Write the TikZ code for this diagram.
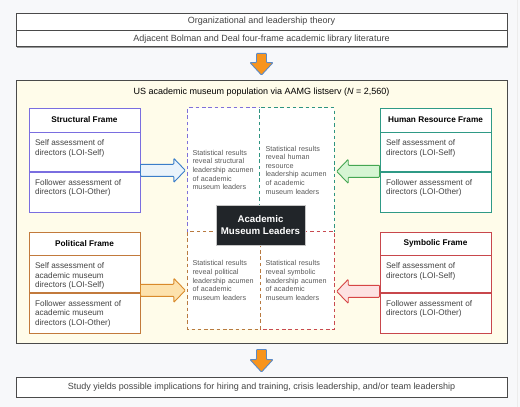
\documentclass[tikz,border=0pt]{standalone}
\usepackage{fontspec}
\setmainfont{Liberation Sans}
\usetikzlibrary{positioning,calc,shadows}

\definecolor{bgpage}{HTML}{F7F8FA}
\definecolor{boxline}{HTML}{4A4A4A}
\definecolor{popfill}{HTML}{FFFCEA}
\definecolor{txtgray}{HTML}{444444}
\definecolor{statgray}{HTML}{5A5A5A}
\definecolor{strcol}{HTML}{7A6EE0}
\definecolor{hrcol}{HTML}{2F9A86}
\definecolor{polcol}{HTML}{C27A3C}
\definecolor{symcol}{HTML}{C8474C}
\definecolor{strdash}{HTML}{7F70DA}
\definecolor{hrdash}{HTML}{2E9480}
\definecolor{poldash}{HTML}{B87A40}
\definecolor{symdash}{HTML}{C84A50}
\definecolor{leadfill}{HTML}{212529}
\definecolor{bluearr}{HTML}{3A7DC9}
\definecolor{bluefill}{HTML}{EAF3FB}
\definecolor{greenarr}{HTML}{45A652}
\definecolor{greenfill}{HTML}{D6F5D3}
\definecolor{orangearr}{HTML}{D98A2B}
\definecolor{orangefill}{HTML}{FDE2AD}
\definecolor{redarr}{HTML}{D64545}
\definecolor{redfill}{HTML}{FDE2E2}
\definecolor{flowfill}{HTML}{F7941D}
\definecolor{flowline}{HTML}{5A8AC6}

\tikzset{
	topbox/.style={draw=boxline, line width=0.9pt, fill=white, minimum width=491pt, minimum height=16pt, inner sep=0pt,
		font=\fontsize{9}{11}\selectfont, text=txtgray,
		drop shadow={shadow xshift=0.8pt, shadow yshift=-0.8pt, fill=gray, opacity=0.8}},
	popbox/.style={draw=boxline, line width=0.9pt, fill=popfill, minimum width=491pt, minimum height=263pt,
		drop shadow={shadow xshift=0.8pt, shadow yshift=-0.8pt, fill=gray, opacity=0.8}},
	framehead/.style={draw=#1, line width=0.9pt, fill=white, minimum width=111pt, minimum height=24pt, inner sep=0pt,
		font=\bfseries\fontsize{8.25}{10}\selectfont},
	framerow/.style={draw=#1, line width=0.9pt, fill=white, minimum width=111pt, inner xsep=6pt, inner ysep=0pt,
		font=\fontsize{8.2}{9.7}\selectfont, text=txtgray},
	statbox/.style={fill=white, text width=63pt, inner sep=0pt,
		align=left, font=\fontsize{7.2}{8.6}\selectfont, text=statgray},
	statline/.style={draw=#1, dash pattern=on 3.5pt off 2.8pt, line width=1.2pt},
	leadbox/.style={fill=leadfill, draw=gray!45, line width=0.8pt, text=white, align=center,
		minimum width=89pt, minimum height=40pt, inner sep=0pt, font=\bfseries\fontsize{9.7}{12.3}\selectfont},
	flowarrow/.style={fill=flowfill, draw=flowline, line width=0.9pt, rounded corners=0.8pt},
}

% text of one row of a frame, top aligned
\newcommand{\rowtxt}[2]{\parbox[c][#1][t]{99pt}{\vspace*{6.5pt}\raggedright #2}}

% side block arrow from #1 towards #2
\newcommand{\sideArrow}[3]{%
	\filldraw[#3, line width=0.9pt, rounded corners=0.8pt] let \p1=(#1), \p2=(#2),
	\n1={\x2-sign(\x2-\x1)*14pt}, \n2={\x2-sign(\x2-\x1)*2.5pt} in
	(\x1,\y1+6pt) -- (\n1,\y1+6pt) -- (\n1,\y1+12pt) -- (\n2,\y1)
	-- (\n1,\y1-12pt) -- (\n1,\y1-6pt) -- (\x1,\y1-6pt) -- cycle;}

% downward block arrow between #1 and #2
\newcommand{\flowArrow}[2]{%
	\filldraw[flowarrow] let \p1=(#1), \p2=(#2) in
	(\x1-5pt,\y1-6pt) -- (\x1-5pt,\y2+17pt) -- (\x1-11.5pt,\y2+17pt) -- (\x1,\y2+4.5pt)
	-- (\x1+11.5pt,\y2+17pt) -- (\x1+5pt,\y2+17pt) -- (\x1+5pt,\y1-6pt) -- cycle;}

\begin{document}
\begin{tikzpicture}[x=1pt, y=-1pt]
		\useasboundingbox (0,0) rectangle (520,407);
		\fill[bgpage] (0,0) rectangle (520,407);
		\draw[gray!15, line width=0.8pt] (517,0) -- (517,407);
		
		% upper part
		\node[topbox, minimum height=17pt] (theory) at (261.5,21.5) {Organizational and leadership theory};
		\node[topbox, below=0pt of theory] (lit) {Adjacent Bolman and Deal four-frame academic library literature};
		
		% population box
		\node[popbox] (pop) at (261.5,211.5) {};
		\node[font=\fontsize{9}{11}\selectfont] (popTitle) at (261.5,92) {US academic museum population via AAMG listserv (\textit{N} = 2,560)};
		
		% statistical results
		\node[statbox, minimum width=72pt, minimum height=124pt] (stS) at (224,170)
			{Statistical results\\reveal structural\\leadership acumen\\of academic\\museum leaders};
		\node[statbox, minimum width=74pt, minimum height=124pt] (stH) at (297,170)
			{Statistical results\\reveal human\\resource\\leadership acumen\\of academic\\museum leaders};
		\node[statbox, minimum width=74pt, minimum height=97pt] (stY) at (297,280.5)
			{Statistical results\\reveal symbolic\\leadership acumen\\of academic\\museum leaders};
		\node[statbox, minimum width=72pt, minimum height=97pt] (stP) at (224,280.5)
			{Statistical results\\reveal political\\leadership acumen\\of academic\\museum leaders};
		\draw[statline=strdash] (stS.south west) -- (stS.north west) -- (stS.north east);
		\draw[statline=hrdash] (stH.south west) -- (stH.north west) -- (stH.north east) -- (stH.south east);
		\draw[statline=symdash] (stY.north west) -- (stY.north east) -- (stY.south east) -- (stY.south west);
		\draw[statline=poldash] (stP.south east) -- (stP.north east) -- (stP.north west) -- (stP.south west) -- (stP.south east);
		\node[leadbox] (lead) at (260.5,225) {Academic\\Museum Leaders};
		
		% left frames
		\node[framehead=strcol] (sfHead) at (84.5,120) {Structural Frame};
		\node[framerow=strcol, below=0pt of sfHead] (sfSelf) {\rowtxt{39pt}{Self assessment of\\directors (LOI-Self)}};
		\node[framerow=strcol, below=0pt of sfSelf] (sfOther) {\rowtxt{40pt}{Follower assessment of\\directors (LOI-Other)}};
		
		\node[framehead=polcol, minimum height=23pt] (pfHead) at (84.5,243.5) {Political Frame};
		\node[framerow=polcol, below=0pt of pfHead] (pfSelf) {\rowtxt{37pt}{Self assessment of\\academic museum\\directors (LOI-Self)}};
		\node[framerow=polcol, below=0pt of pfSelf] (pfOther) {\rowtxt{40pt}{Follower assessment of\\academic museum\\directors (LOI-Other)}};
		
		% right frames
		\node[framehead=hrcol] (hfHead) at (435.5,120) {Human Resource Frame};
		\node[framerow=hrcol, below=0pt of hfHead] (hfSelf) {\rowtxt{39pt}{Self assessment of\\directors (LOI-Self)}};
		\node[framerow=hrcol, below=0pt of hfSelf] (hfOther) {\rowtxt{40pt}{Follower assessment of\\directors (LOI-Other)}};
		
		\node[framehead=symcol, minimum height=23pt] (yfHead) at (435.5,243.5) {Symbolic Frame};
		\node[framerow=symcol, below=0pt of yfHead] (yfSelf) {\rowtxt{37pt}{Self assessment of\\directors (LOI-Self)}};
		\node[framerow=symcol, below=0pt of yfSelf] (yfOther) {\rowtxt{40pt}{Follower assessment of\\directors (LOI-Other)}};
		
		% arrows into the results
		\coordinate (sfOut) at ($(sfSelf.south east)+(0,-2)$);
		\coordinate (hfOut) at ($(hfSelf.south west)+(0,-1)$);
		\coordinate (pfOut) at ($(pfSelf.south east)+(0,-3)$);
		\coordinate (yfOut) at ($(yfSelf.south west)+(0,-2)$);
		\sideArrow{sfOut}{stS.west |- sfOut}{draw=bluearr, fill=bluefill}
		\sideArrow{hfOut}{stH.east |- hfOut}{draw=greenarr, fill=greenfill}
		\sideArrow{pfOut}{stP.west |- pfOut}{draw=orangearr, fill=orangefill}
		\sideArrow{yfOut}{stY.east |- yfOut}{draw=redarr, fill=redfill}
		
		%lower part
		\node[topbox, minimum height=20pt] (impl) at (261.5,387) {Study yields possible implications for hiring and training, crisis leadership, and/or team leadership};
		
		\flowArrow{lit.south}{pop.north}
		\flowArrow{pop.south}{impl.north}
\end{tikzpicture}
\end{document}
